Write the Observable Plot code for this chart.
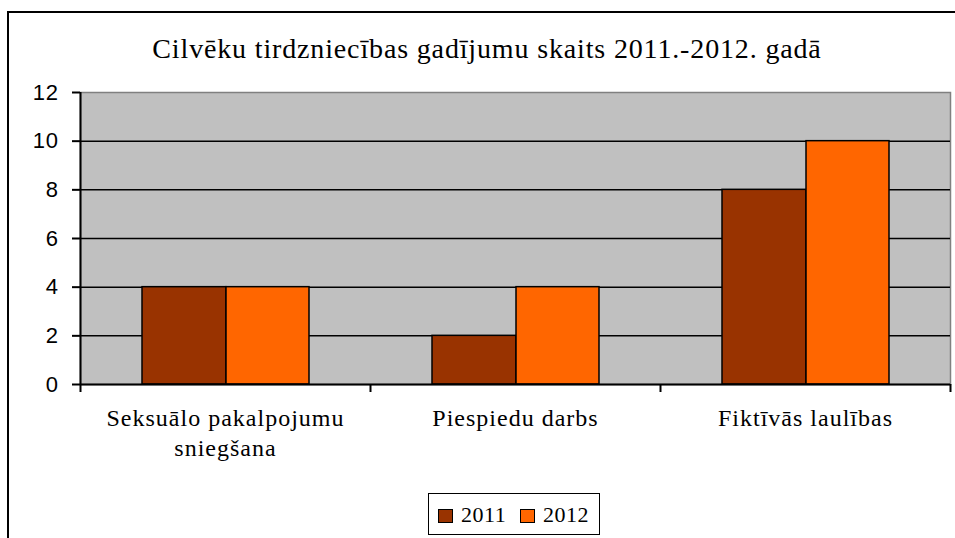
<!DOCTYPE html>
<html><head><meta charset="utf-8">
<script src="https://cdn.jsdelivr.net/npm/d3@7"></script>
<script src="https://cdn.jsdelivr.net/npm/@observablehq/plot@0.6"></script>
<style>
body{margin:0;background:#fff;}
#wrap{position:relative;width:955px;height:538px;overflow:hidden;background:#fff;}
#frame{position:absolute;left:7px;top:11px;width:2000px;height:2000px;border-left:2px solid #000;border-top:2px solid #000;}
#title{position:absolute;top:33px;left:0;width:974px;text-align:center;font-family:"Liberation Serif","Times New Roman",serif;font-size:28px;line-height:31px;letter-spacing:0.85px;color:#000;white-space:nowrap;}
#chart{position:absolute;left:0;top:82px;}
#chart svg g[aria-label="x-axis tick label"], #chart svg g[aria-label="x-axis tick label"] text{font-family:"Liberation Serif","Times New Roman",serif !important;font-size:24px !important;letter-spacing:1px;fill:#000;}
#chart svg g[aria-label="y-axis tick label"], #chart svg g[aria-label="y-axis tick label"] text{font-family:"Liberation Sans",Arial,sans-serif !important;font-size:22px !important;letter-spacing:0.6px;fill:#000;}
#legend{position:absolute;left:428px;top:493px;width:172px;height:42px;box-sizing:border-box;border:1.5px solid #000;background:#fff;}
.sw{position:absolute;top:15px;width:15px;height:14px;box-sizing:border-box;border:1.5px solid #000;}
.lt{position:absolute;top:10px;font-family:"Liberation Serif","Times New Roman",serif;font-size:22px;line-height:22px;letter-spacing:0.5px;color:#000;white-space:nowrap;}
</style>
</head><body>
<div id="wrap">
  <div id="frame"></div>
  <div id="title"></div>
  <div id="chart"></div>
  <div id="legend"></div>
</div>
<script>
const title = "Cilvēku tirdzniecības gadījumu skaits 2011.-2012. gadā";
const categories = ["Seksuālo pakalpojumu\nsniegšana", "Piespiedu darbs", "Fiktīvās laulības"];
const series = ["2011", "2012"];
const values2011 = [4, 2, 8];
const values2012 = [4, 4, 10];
const yTicks = [0, 2, 4, 6, 8, 10, 12];
const colors = ["#993300", "#FF6600"];

const data2011 = categories.map((c, i) => ({category: c, series: series[0], value: values2011[i]}));
const data2012 = categories.map((c, i) => ({category: c, series: series[1], value: values2012[i]}));

document.getElementById("title").textContent = title;

const chart = Plot.plot({
  width: 955,
  height: 380,
  marginTop: 10,
  marginBottom: 78,
  marginLeft: 80,
  marginRight: 5,
  style: {background: "transparent", overflow: "visible", color: "#000"},
  x: {type: "band", domain: categories, padding: 0, axis: null},
  y: {domain: [0, 12], axis: null},
  marks: [
    Plot.frame({fill: "#C0C0C0", stroke: "#808080", strokeWidth: 1.5}),
    Plot.ruleY(yTicks.filter(t => t > 0 && t < 12), {stroke: "#000", strokeWidth: 1.5}),
    Plot.barY(data2011, {x: "category", y: "value", fill: colors[0], stroke: "#000", strokeWidth: 1.5, insetLeft: 62, insetRight: 144}),
    Plot.barY(data2012, {x: "category", y: "value", fill: colors[1], stroke: "#000", strokeWidth: 1.5, insetLeft: 146, insetRight: 61}),
    Plot.ruleY([0], {stroke: "#000", strokeWidth: 2}),
    Plot.ruleX([categories[0]], {x: d => d, dx: -145, insetBottom: -8, stroke: "#000", strokeWidth: 2}),
    Plot.ruleX(categories.slice(1), {x: d => d, dx: -145, insetTop: 292, insetBottom: -8, stroke: "#000", strokeWidth: 2}),
    Plot.ruleX([categories[categories.length - 1]], {x: d => d, dx: 145, insetTop: 292, insetBottom: -8, stroke: "#000", strokeWidth: 2}),
    Plot.axisY(yTicks, {tickSize: 8, tickPadding: 14, fontSize: 22, fontFamily: "Liberation Sans", stroke: "#000", strokeWidth: 2, fill: "#000", label: null, tickFormat: d => String(d)}),
    Plot.axisX({tickSize: 0, tickPadding: 20, fontSize: 24, fontFamily: "Liberation Serif", lineHeight: 1.25, fill: "#000", label: null})
  ]
});
document.getElementById("chart").appendChild(chart);

const legend = document.getElementById("legend");
const swX = [9, 91];
const txX = [32, 114];
series.forEach((s, i) => {
  const sw = document.createElement("div");
  sw.className = "sw";
  sw.style.left = swX[i] + "px";
  sw.style.background = colors[i];
  legend.appendChild(sw);
  const t = document.createElement("div");
  t.className = "lt";
  t.style.left = txX[i] + "px";
  t.textContent = s;
  legend.appendChild(t);
});
</script>
</body></html>
